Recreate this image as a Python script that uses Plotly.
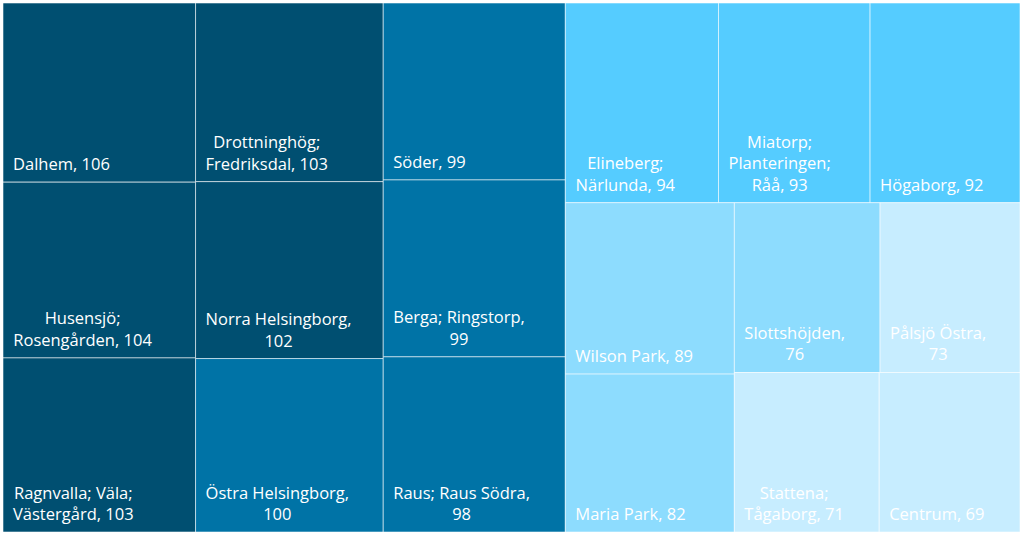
import plotly.graph_objects as go

areas = [
    "Dalhem", "Husensjö;<br>Rosengården", "Ragnvalla; Väla;<br>Västergård",
    "Drottninghög;<br>Fredriksdal", "Norra Helsingborg,<br>", "Östra Helsingborg,<br>",
    "Söder", "Berga; Ringstorp,<br>", "Raus; Raus Södra,<br>",
    "Elineberg;<br>Närlunda", "Miatorp;<br>Planteringen;<br>Råå", "Högaborg",
    "Wilson Park", "Maria Park", "Slottshöjden,<br>", "Pålsjö Östra,<br>",
    "Stattena;<br>Tågaborg", "Centrum",
]
values = [106, 104, 103, 103, 102, 100, 99, 99, 98, 94, 93, 92, 89, 82, 76, 73, 71, 69]

# colour classes by value
bins = [(101.5, "#004f71"), (95.5, "#0073a6"), (90.5, "#55ccff"), (74.5, "#8ddcfe"), (0, "#c7edff")]


def colour(v):
    for lo, c in bins:
        if v >= lo:
            return c
    return bins[-1][1]


texts = []
for a, v in zip(areas, values):
    if a.endswith("<br>"):
        texts.append(f"{a}{v}")
    else:
        texts.append(f"{a}, {v}")

fig = go.Figure(go.Treemap(
    labels=[a.replace("<br>", " ") for a in areas],
    parents=[""] * len(areas),
    values=values,
    text=texts,
    texttemplate="%{text}",
    textposition="bottom left",
    textfont=dict(family="Open Sans", size=16.5, color="white"),
    marker=dict(colors=[colour(v) for v in values],
                line=dict(color="rgba(255,255,255,0.55)", width=1),
                pad=dict(t=0, l=0, r=0, b=0)),
    tiling=dict(packing="squarify", pad=0),
    pathbar=dict(visible=False),
    sort=True,
    hoverinfo="skip",
))
fig.update_layout(
    width=1023, height=536,
    margin=dict(l=3, r=3, t=3, b=4),
    paper_bgcolor="white",
)

post = """
document.body.style.margin='0';
document.querySelectorAll('g.slicetext text').forEach(function(t){
  var lines = t.querySelectorAll('tspan.line');
  if (lines.length > 1) {
    var bb = t.getBBox();
    var xc = bb.x + bb.width / 2;
    t.setAttribute('text-anchor', 'middle');
    t.setAttribute('x', xc);
    lines.forEach(function(l){ l.setAttribute('x', xc); });
  }
  var tr = t.getAttribute('transform') || '';
  t.setAttribute('transform', 'translate(7,-4) ' + tr);
});
"""
fig.write_html("out.html", post_script=post, config={"displayModeBar": False})
